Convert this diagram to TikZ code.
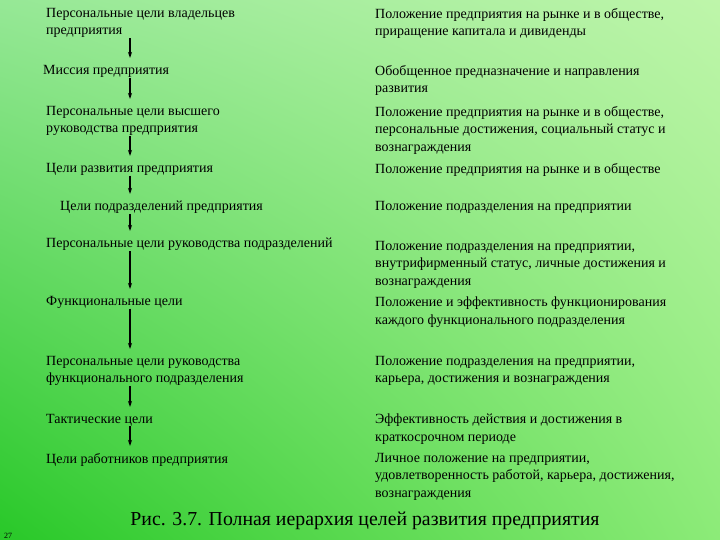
\documentclass[tikz,border=0pt]{standalone}
\usepackage{fontspec}
\setmainfont{Liberation Serif}
\usetikzlibrary{arrows.meta,shadings}
\definecolor{bgA}{RGB}{150,232,150}
\definecolor{bgB}{RGB}{190,245,170}
\definecolor{bgC}{RGB}{40,200,40}
\definecolor{bgD}{RGB}{140,235,120}
\begin{document}
\begin{tikzpicture}[x=1pt,y=-1pt,
  txt/.style={anchor=north west,inner sep=0pt,align=left,font=\fontsize{14}{17.5}\selectfont},
  arr/.style={-{Stealth[length=6pt,width=4pt]},line width=1.3pt}]
\shade[upper left=bgA,upper right=bgB,lower left=bgC,lower right=bgD] (0,0) rectangle (720,540);
\useasboundingbox (0,0) rectangle (720,540);
\coordinate (ax) at (130,0);
% left column
\node[txt] (l1) at (46,8) {Персональные цели владельцев\\предприятия};
\node[txt] (l2) at (43,65) {Миссия предприятия};
\node[txt] (l3) at (46,106) {Персональные цели высшего\\руководства предприятия};
\node[txt] (l4) at (46,163) {Цели развития предприятия};
\node[txt] (l5) at (60,201) {Цели подразделений предприятия};
\node[txt] (l6) at (46,238) {Персональные цели руководства подразделений};
\node[txt] (l7) at (46,296) {Функциональные цели};
\node[txt] (l8) at (46,356) {Персональные цели руководства\\функционального подразделения};
\node[txt] (l9) at (46,414) {Тактические цели};
\node[txt] (l10) at (46,453) {Цели работников предприятия};
% right column
\node[txt] (r1) at (375,8) {Положение предприятия на рынке и в обществе,\\приращение капитала и дивиденды};
\node[txt] (r2) at (375,65) {Обобщенное предназначение и направления\\развития};
\node[txt] (r3) at (375,106) {Положение предприятия на рынке и в обществе,\\персональные достижения, социальный статус и\\вознаграждения};
\node[txt] (r4) at (375,163) {Положение предприятия на рынке и в обществе};
\node[txt] (r5) at (375,201) {Положение подразделения на предприятии};
\node[txt] (r6) at (375,241) {Положение подразделения на предприятии,\\внутрифирменный статус, личные достижения и\\вознаграждения};
\node[txt] (r7) at (375,297) {Положение и эффективность функционирования\\каждого функционального подразделения};
\node[txt] (r8) at (375,356) {Положение подразделения на предприятии,\\карьера, достижения и вознаграждения};
\node[txt] (r9) at (375,414) {Эффективность действия и достижения в\\краткосрочном периоде};
\node[txt] (r10) at (375,453) {Личное положение на предприятии,\\удовлетворенность работой, карьера, достижения,\\вознаграждения};
% arrows
\foreach \a/\b in {l1/l2,l2/l3,l3/l4,l4/l5,l5/l6,l6/l7,l7/l8,l8/l9,l9/l10}
  \draw[arr] (\a.south -| ax) -- ([yshift=7pt]\b.north -| ax);
\node[anchor=base,inner sep=0pt,font=\fontsize{19.8}{22}\selectfont] (cap) at (365,525) {Рис. 3.7. Полная иерархия целей развития предприятия};
\node[anchor=base west,inner sep=0pt,font=\fontsize{8}{9}\selectfont] (pg) at (4,538) {27};
\end{tikzpicture}
\end{document}
